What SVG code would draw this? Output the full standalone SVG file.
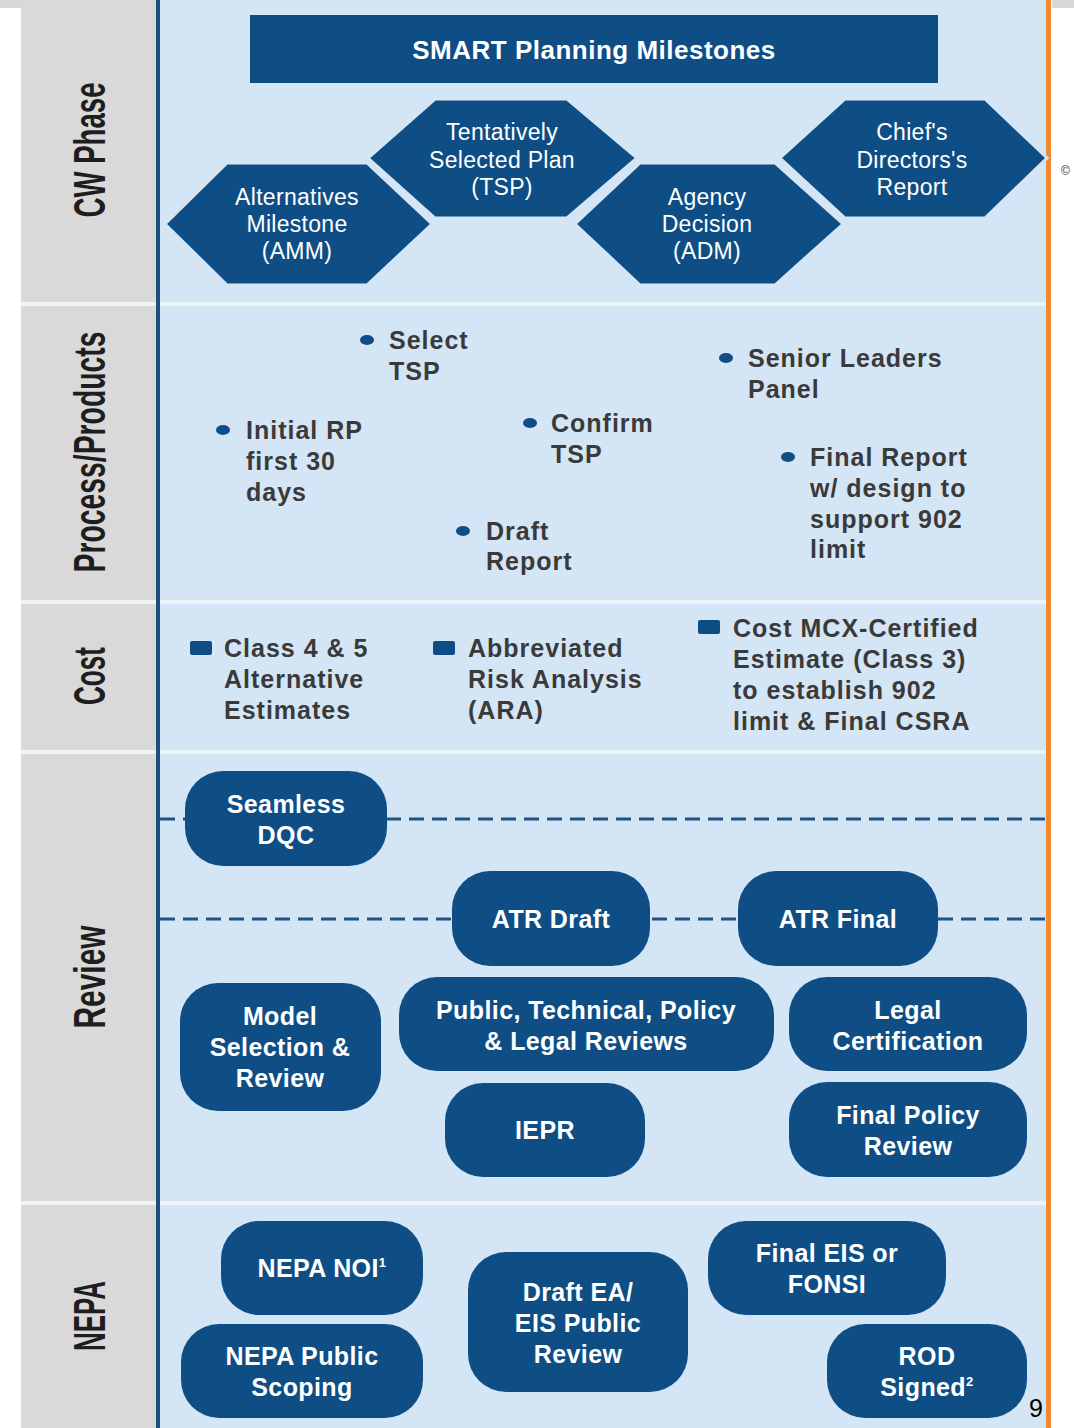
<svg xmlns="http://www.w3.org/2000/svg" width="1074" height="1428" viewBox="0 0 1074 1428">
<style>
.lane{font-family:"Liberation Sans",Arial,sans-serif;font-weight:bold;font-size:44px;fill:#1e1e1e;text-anchor:middle}
.hex{fill:#0e4e85;stroke:#d4e5f5;stroke-width:3;stroke-linejoin:miter}
.pill{fill:#0e4e85}
.ht{font-family:"Liberation Sans",Arial,sans-serif;font-size:23px;fill:#ffffff;text-anchor:middle;letter-spacing:0.3px}
.pt{font-family:"Liberation Sans",Arial,sans-serif;font-weight:bold;font-size:25px;fill:#ffffff;text-anchor:middle;letter-spacing:0.4px}
.gt{font-family:"Liberation Sans",Arial,sans-serif;font-weight:bold;font-size:25px;fill:#3a3a3a;letter-spacing:1px}
.dot{fill:#0e4e85}
.sq{fill:#0e4e85}
.dash{stroke:#1f5384;stroke-width:3;stroke-dasharray:15 8;fill:none}
.sep{fill:#eef3f8}
</style>
<rect x="0" y="0" width="1074" height="1428" fill="#ffffff"/>
<rect x="0" y="0" width="21" height="8" fill="#d8d8d8"/>
<rect x="1052" y="0" width="22" height="8" fill="#d8d8d8"/>
<rect x="21" y="0" width="135" height="1428" fill="#d9d9d9"/>
<rect x="160" y="0" width="886" height="1428" fill="#d4e5f5"/>
<rect class="sep" x="21" y="302" width="1025" height="4"/>
<rect class="sep" x="21" y="600" width="1025" height="4"/>
<rect class="sep" x="21" y="750" width="1025" height="4"/>
<rect class="sep" x="21" y="1201" width="1025" height="4"/>
<rect x="156" y="0" width="4" height="1428" fill="#1c4e7e"/>
<rect x="1046" y="0" width="5" height="1428" fill="#f08a32"/>
<text x="1061" y="175" font-family="Liberation Sans,Arial,sans-serif" font-size="12" fill="#333333">©</text>

<g id="lanes">
<text class="lane" transform="translate(105,150) rotate(-90)" textLength="135" lengthAdjust="spacingAndGlyphs">CW Phase</text>
<text class="lane" transform="translate(105,452) rotate(-90)" textLength="241" lengthAdjust="spacingAndGlyphs">Process/Products</text>
<text class="lane" transform="translate(105,676) rotate(-90)" textLength="58" lengthAdjust="spacingAndGlyphs">Cost</text>
<text class="lane" transform="translate(105,977) rotate(-90)" textLength="103" lengthAdjust="spacingAndGlyphs">Review</text>
<text class="lane" transform="translate(105,1316) rotate(-90)" textLength="70" lengthAdjust="spacingAndGlyphs">NEPA</text>
</g>

<g id="smart-bar">
<rect x="250" y="15" width="688" height="68" fill="#0e4e85"/>
<text x="594" y="59" font-family="Liberation Sans,Arial,sans-serif" font-weight="bold" font-size="26" fill="#ffffff" text-anchor="middle" letter-spacing="0.5">SMART Planning Milestones</text>
</g>

<g id="hex-tsp">
<polygon class="hex" points="368,158 435,99 567,99 637,158 567,218 435,218"/>
<text class="ht" x="502" y="140">Tentatively</text>
<text class="ht" x="502" y="168">Selected Plan</text>
<text class="ht" x="502" y="195">(TSP)</text>
</g>
<g id="hex-chief">
<polygon class="hex" points="780,158 845,99 985,99 1047,158 985,218 845,218"/>
<text class="ht" x="912" y="140">Chief's</text>
<text class="ht" x="912" y="168">Directors's</text>
<text class="ht" x="912" y="195">Report</text>
</g>
<g id="hex-amm">
<polygon class="hex" points="165,224 227,163 367,163 432,224 367,285 227,285"/>
<text class="ht" x="297" y="205">Alternatives</text>
<text class="ht" x="297" y="232">Milestone</text>
<text class="ht" x="297" y="259">(AMM)</text>
</g>
<g id="hex-adm">
<polygon class="hex" points="575,224 640,163 775,163 843,224 775,285 640,285"/>
<text class="ht" x="707" y="205">Agency</text>
<text class="ht" x="707" y="232">Decision</text>
<text class="ht" x="707" y="259">(ADM)</text>
</g>

<g id="proc-select">
<ellipse class="dot" cx="367" cy="340" rx="7" ry="5"/>
<text class="gt" x="389" y="349">Select</text>
<text class="gt" x="389" y="380">TSP</text>
</g>
<g id="proc-initial">
<ellipse class="dot" cx="223" cy="430" rx="7" ry="5"/>
<text class="gt" x="246" y="439">Initial RP</text>
<text class="gt" x="246" y="470">first 30</text>
<text class="gt" x="246" y="501">days</text>
</g>
<g id="proc-confirm">
<ellipse class="dot" cx="530" cy="423" rx="7" ry="5"/>
<text class="gt" x="551" y="432">Confirm</text>
<text class="gt" x="551" y="463">TSP</text>
</g>
<g id="proc-draft">
<ellipse class="dot" cx="463" cy="531" rx="7" ry="5"/>
<text class="gt" x="486" y="540">Draft</text>
<text class="gt" x="486" y="570">Report</text>
</g>
<g id="proc-senior">
<ellipse class="dot" cx="726" cy="358" rx="7" ry="5"/>
<text class="gt" x="748" y="367">Senior Leaders</text>
<text class="gt" x="748" y="398">Panel</text>
</g>
<g id="proc-final">
<ellipse class="dot" cx="788" cy="457" rx="7" ry="5"/>
<text class="gt" x="810" y="466">Final Report</text>
<text class="gt" x="810" y="497">w/ design to</text>
<text class="gt" x="810" y="528">support 902</text>
<text class="gt" x="810" y="558">limit</text>
</g>

<g id="cost-class">
<rect class="sq" x="190" y="641" width="22" height="14" rx="2"/>
<text class="gt" x="224" y="657">Class 4 &amp; 5</text>
<text class="gt" x="224" y="688">Alternative</text>
<text class="gt" x="224" y="719">Estimates</text>
</g>
<g id="cost-ara">
<rect class="sq" x="433" y="641" width="22" height="14" rx="2"/>
<text class="gt" x="468" y="657">Abbreviated</text>
<text class="gt" x="468" y="688">Risk Analysis</text>
<text class="gt" x="468" y="719">(ARA)</text>
</g>
<g id="cost-mcx">
<rect class="sq" x="698" y="620" width="22" height="14" rx="2"/>
<text class="gt" x="733" y="637">Cost MCX-Certified</text>
<text class="gt" x="733" y="668">Estimate (Class 3)</text>
<text class="gt" x="733" y="699">to establish 902</text>
<text class="gt" x="733" y="730">limit &amp; Final CSRA</text>
</g>

<g id="connectors">
<line class="dash" x1="160" y1="819" x2="186" y2="819"/>
<line class="dash" x1="386" y1="819" x2="1046" y2="819"/>
<line class="dash" x1="160" y1="919" x2="453" y2="919"/>
<line class="dash" x1="652" y1="919" x2="738" y2="919"/>
<line class="dash" x1="938" y1="919" x2="1046" y2="919"/>
</g>

<g id="rev-dqc">
<rect class="pill" x="185" y="771" width="202" height="95" rx="38"/>
<text class="pt" x="286" y="813">Seamless</text>
<text class="pt" x="286" y="844">DQC</text>
</g>
<g id="rev-atr-draft">
<rect class="pill" x="452" y="871" width="198" height="95" rx="38"/>
<text class="pt" x="551" y="928">ATR Draft</text>
</g>
<g id="rev-atr-final">
<rect class="pill" x="738" y="871" width="200" height="95" rx="38"/>
<text class="pt" x="838" y="928">ATR Final</text>
</g>
<g id="rev-model">
<rect class="pill" x="180" y="983" width="201" height="128" rx="38"/>
<text class="pt" x="280" y="1025">Model</text>
<text class="pt" x="280" y="1056">Selection &amp;</text>
<text class="pt" x="280" y="1087">Review</text>
</g>
<g id="rev-public">
<rect class="pill" x="399" y="977" width="375" height="94" rx="38"/>
<text class="pt" x="586" y="1019">Public, Technical, Policy</text>
<text class="pt" x="586" y="1050">&amp; Legal Reviews</text>
</g>
<g id="rev-legal">
<rect class="pill" x="789" y="977" width="238" height="94" rx="38"/>
<text class="pt" x="908" y="1019">Legal</text>
<text class="pt" x="908" y="1050">Certification</text>
</g>
<g id="rev-iepr">
<rect class="pill" x="445" y="1083" width="200" height="94" rx="38"/>
<text class="pt" x="545" y="1139">IEPR</text>
</g>
<g id="rev-final-policy">
<rect class="pill" x="789" y="1082" width="238" height="95" rx="38"/>
<text class="pt" x="908" y="1124">Final Policy</text>
<text class="pt" x="908" y="1155">Review</text>
</g>

<g id="nepa-noi">
<rect class="pill" x="221" y="1221" width="202" height="94" rx="38"/>
<text class="pt" x="322" y="1277">NEPA NOI<tspan font-size="13" dy="-10">1</tspan></text>
</g>
<g id="nepa-scoping">
<rect class="pill" x="181" y="1324" width="242" height="94" rx="38"/>
<text class="pt" x="302" y="1365">NEPA Public</text>
<text class="pt" x="302" y="1396">Scoping</text>
</g>
<g id="nepa-draft">
<rect class="pill" x="468" y="1252" width="220" height="140" rx="38"/>
<text class="pt" x="578" y="1301">Draft EA/</text>
<text class="pt" x="578" y="1332">EIS Public</text>
<text class="pt" x="578" y="1363">Review</text>
</g>
<g id="nepa-final">
<rect class="pill" x="708" y="1221" width="238" height="94" rx="38"/>
<text class="pt" x="827" y="1262">Final EIS or</text>
<text class="pt" x="827" y="1293">FONSI</text>
</g>
<g id="nepa-rod">
<rect class="pill" x="827" y="1324" width="200" height="94" rx="38"/>
<text class="pt" x="927" y="1365">ROD</text>
<text class="pt" x="927" y="1396">Signed<tspan font-size="13" dy="-10">2</tspan></text>
</g>

<text x="1029" y="1417" font-family="Liberation Sans,Arial,sans-serif" font-size="25" fill="#000000">9</text>
</svg>
